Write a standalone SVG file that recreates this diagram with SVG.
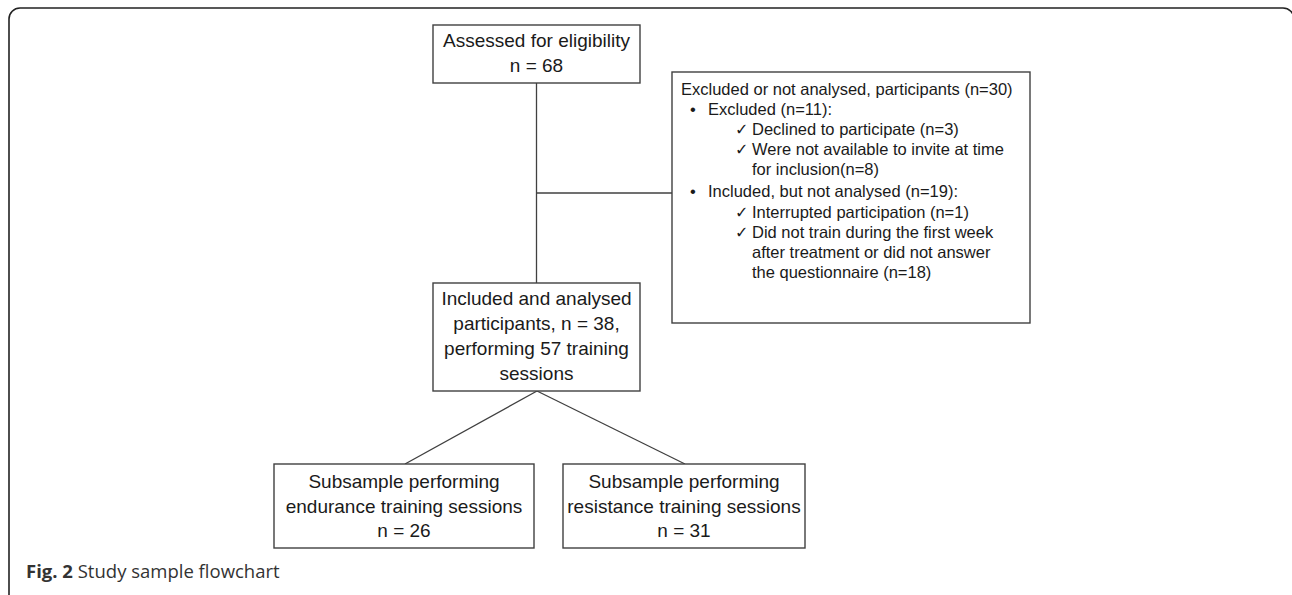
<svg xmlns="http://www.w3.org/2000/svg" width="1292" height="595" viewBox="0 0 1292 595">
<style>
.box{fill:#fff;stroke:#404040;stroke-width:1.4}
.conn{stroke:#404040;stroke-width:1.3;fill:none}
.t{font-family:"Liberation Sans",Arial,sans-serif;font-size:19px;fill:#1a1a1a;text-anchor:middle}
.s{font-family:"Liberation Sans",Arial,sans-serif;font-size:16.5px;fill:#1a1a1a}
.ck{font-family:"DejaVu Sans",sans-serif;font-size:16px;fill:#1a1a1a}
.cap{font-family:"Open Sans","Liberation Sans",sans-serif;font-size:18.5px;fill:#333}
</style>
<rect x="9" y="8" width="1285" height="600" rx="11" fill="#fff" stroke="#222" stroke-width="1.6"/>
<g id="connectors">
<line class="conn" x1="536.5" y1="83" x2="536.5" y2="283"/>
<line class="conn" x1="536.5" y1="193" x2="672" y2="193"/>
<line class="conn" x1="537" y1="391" x2="405" y2="464"/>
<line class="conn" x1="537" y1="391" x2="685" y2="464"/>
</g>
<g id="assessed">
<rect class="box" x="433" y="25" width="207" height="58"/>
<text class="t" x="536.5" y="47">Assessed for eligibility</text>
<text class="t" x="536.5" y="72">n = 68</text>
</g>
<g id="excluded">
<rect class="box" x="672" y="72" width="358" height="251"/>
<text class="s" x="681" y="95">Excluded or not analysed, participants (n=30)</text>
<text class="s" x="690" y="115">•</text>
<text class="s" x="708" y="115">Excluded (n=11):</text>
<text class="ck" x="735" y="135">✓</text>
<text class="s" x="752" y="135">Declined to participate (n=3)</text>
<text class="ck" x="735" y="155">✓</text>
<text class="s" x="752" y="155">Were not available to invite at time</text>
<text class="s" x="752" y="175">for inclusion(n=8)</text>
<text class="s" x="690" y="197">•</text>
<text class="s" x="708" y="197">Included, but not analysed (n=19):</text>
<text class="ck" x="735" y="218">✓</text>
<text class="s" x="752" y="218">Interrupted participation (n=1)</text>
<text class="ck" x="735" y="238">✓</text>
<text class="s" x="752" y="238">Did not train during the first week</text>
<text class="s" x="752" y="258">after treatment or did not answer</text>
<text class="s" x="752" y="278">the questionnaire (n=18)</text>
</g>
<g id="included">
<rect class="box" x="433" y="283" width="207" height="108"/>
<text class="t" x="536.5" y="305">Included and analysed</text>
<text class="t" x="536.5" y="330">participants, n = 38,</text>
<text class="t" x="536.5" y="355">performing 57 training</text>
<text class="t" x="536.5" y="380">sessions</text>
</g>
<g id="endurance">
<rect class="box" x="274" y="464" width="260" height="84"/>
<text class="t" x="404" y="488">Subsample performing</text>
<text class="t" x="404" y="513">endurance training sessions</text>
<text class="t" x="404" y="537">n = 26</text>
</g>
<g id="resistance">
<rect class="box" x="563" y="464" width="242" height="84"/>
<text class="t" x="684" y="488">Subsample performing</text>
<text class="t" x="684" y="513">resistance training sessions</text>
<text class="t" x="684" y="537">n = 31</text>
</g>
<text class="cap" x="26" y="578"><tspan font-weight="bold">Fig. 2</tspan> Study sample flowchart</text>
</svg>
